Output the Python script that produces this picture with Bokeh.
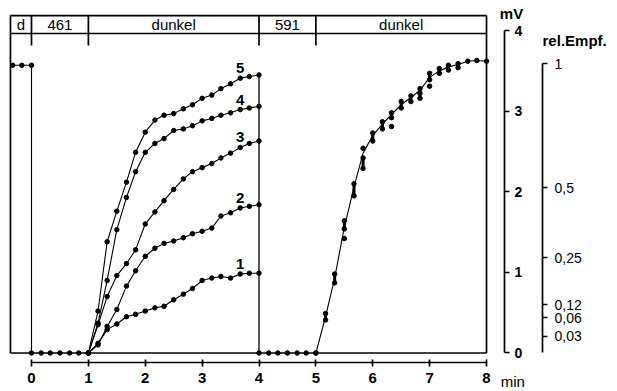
from bokeh.plotting import figure
from bokeh.models import Range1d, LinearAxis, FixedTicker
from bokeh.core.properties import value
from bokeh.embed import file_html
from bokeh.resources import INLINE

# ---------------- data (time in min, response in mV) ----------------
t_pre = [-0.33, -0.17, 0.0]
v_pre = [3.57, 3.57, 3.57]

t_base1 = [0.0, 0.17, 0.33, 0.5, 0.67, 0.83, 1.0]
v_base1 = [0, 0, 0, 0, 0, 0, 0]

t_curve = [1.0, 1.17, 1.33, 1.5, 1.67, 1.83, 2.0, 2.17, 2.33, 2.5,
           2.67, 2.83, 3.0, 3.17, 3.33, 3.5, 3.67, 3.83, 4.0]
c1 = [0, 0.12, 0.29, 0.36, 0.45, 0.48, 0.52, 0.56, 0.58, 0.66,
      0.73, 0.80, 0.90, 0.93, 0.95, 0.93, 0.98, 0.99, 0.99]
c2 = [0, 0.10, 0.33, 0.54, 0.83, 1.02, 1.20, 1.30, 1.36, 1.39,
      1.43, 1.48, 1.51, 1.55, 1.70, 1.74, 1.80, 1.82, 1.84]
c3 = [0, 0.35, 0.70, 0.96, 1.11, 1.28, 1.60, 1.75, 1.89, 2.03,
      2.16, 2.25, 2.30, 2.35, 2.42, 2.48, 2.55, 2.60, 2.63]
c4 = [0, 0.37, 0.90, 1.53, 1.93, 2.25, 2.49, 2.60, 2.66, 2.76,
      2.78, 2.82, 2.88, 2.91, 2.95, 2.98, 3.02, 3.04, 3.06]
c5 = [0, 0.52, 1.38, 1.76, 2.12, 2.49, 2.74, 2.89, 2.95, 2.97,
      3.03, 3.08, 3.16, 3.20, 3.28, 3.34, 3.41, 3.43, 3.45]
curves = [c1, c2, c3, c4, c5]
curve_names = ["1", "2", "3", "4", "5"]

t_base2 = [4.0, 4.17, 4.33, 4.5, 4.67, 4.83, 5.0]
v_base2 = [0, 0, 0, 0, 0, 0, 0]

# second exposure (591) : fitted curve and repeated measurements
t_fit = [5.0, 5.17, 5.33, 5.5, 5.67, 5.83, 6.0, 6.17, 6.33, 6.5,
         6.67, 6.83, 7.0, 7.17, 7.33, 7.5, 7.67, 7.83, 8.0]
v_fit = [0, 0.45, 0.93, 1.56, 2.06, 2.48, 2.70, 2.84, 2.96, 3.08,
         3.17, 3.26, 3.42, 3.50, 3.55, 3.58, 3.62, 3.63, 3.62]
bar_t = [5.17, 5.33, 5.5, 5.67, 5.83, 6.0, 6.17, 6.33, 6.5, 6.67,
         6.83, 7.0, 7.17, 7.33, 7.5]
bar_lo = [0.41, 0.87, 1.54, 1.95, 2.29, 2.63, 2.78, 2.92, 3.04, 3.12,
          3.22, 3.39, 3.47, 3.51, 3.54]
bar_hi = [0.49, 0.98, 1.64, 2.10, 2.42, 2.73, 2.87, 2.98, 3.12, 3.19,
          3.28, 3.47, 3.53, 3.57, 3.59]
dot_t = [5.0, 5.5, 5.83, 6.33, 6.83, 7.0, 7.67, 7.83, 8.0]
dot_v = [0.0, 1.42, 2.54, 2.81, 3.16, 3.31, 3.62, 3.63, 3.62]

# stimulus protocol header
header_edges = [-0.37, 0, 1, 4, 5, 8]
header_labels = ["d", "461", "dunkel", "591", "dunkel"]

# axes
x_ticks = [0, 1, 2, 3, 4, 5, 6, 7, 8]
mv_ticks = [0, 1, 2, 3, 4]
rel_labels = ["1", "0,5", "0,25", "0,12", "0,06", "0,03"]
rel_pos_mv = [3.59, 2.05, 1.18, 0.60, 0.44, 0.205]

# ---------------- layout constants ----------------
HT, HB, HS = 4.187, 3.964, 3.815   # header top, header bottom, separator tick end
FONT = "Liberation Sans"
INK = "black"

p = figure(width=617, height=391,
           x_range=Range1d(-0.545, 10.303), y_range=Range1d(-0.4777, 4.3735),
           x_axis_type=None, y_axis_type=None,
           toolbar_location=None, output_backend="svg",
           min_border=0, outline_line_color=None)
for g in p.grid:
    g.visible = False

left, right = header_edges[0], header_edges[-1]
# frame and header
fx0 = [left, left, left, right, left]
fy0 = [HT, HB, 0, 0, 0]
fx1 = [right, right, left, right, right]
fy1 = [HT, HB, HT, HT, 0]
for s in header_edges[1:-1]:
    fx0.append(s); fy0.append(HS); fx1.append(s); fy1.append(HT)
p.segment(fx0, fy0, fx1, fy1, line_color=INK, line_width=1.7)

mids = [(a + b) / 2 for a, b in zip(header_edges[:-1], header_edges[1:])]
p.text(mids, [(HT + HB) / 2] * len(mids), text=header_labels,
       text_align="center", text_baseline="middle",
       text_font=value(FONT), text_font_size="15px", text_color=INK)

# pre-stimulus level and drop at t=0
p.line(t_pre + [t_pre[-1]], v_pre + [0], line_color=INK, line_width=1.1)
p.scatter(t_pre, v_pre, size=4.5, color=INK)

# baseline segments
p.scatter(t_base1, v_base1, size=4.5, color=INK)
p.scatter(t_base2, v_base2, size=4.5, color=INK)

# first exposure curves
for c, name in zip(curves, curve_names):
    p.line(t_curve, c, line_color=INK, line_width=1.1)
    p.scatter(t_curve, c, size=4.5, color=INK)
p.segment([t_curve[-1]], [c5[-1]], [t_curve[-1]], [0], line_color=INK, line_width=1.3)
p.text([t_curve[16]] * 5, [c[16] for c in curves], text=curve_names,
       text_align="center", text_baseline="bottom", y_offset=-5,
       text_font=value(FONT), text_font_size="15px", text_font_style="bold",
       text_color=INK)

# second exposure
p.line(t_fit, v_fit, line_color=INK, line_width=1.1)
p.segment(bar_t, bar_lo, bar_t, bar_hi, line_color=INK, line_width=3)
p.scatter(bar_t + bar_t, bar_lo + bar_hi, size=4.5, color=INK)
p.scatter(dot_t, dot_v, size=4.5, color=INK)

# time axis
xax = LinearAxis(fixed_location=-0.124, bounds=(0, 8),
                 ticker=FixedTicker(ticks=x_ticks, minor_ticks=[]),
                 major_tick_in=3, major_tick_out=4, major_label_standoff=6,
                 axis_line_width=1.7, major_tick_line_width=1.7,
                 major_label_text_font=FONT, major_label_text_font_size="15px",
                 major_label_text_font_style="bold", major_label_text_color=INK)
p.add_layout(xax, "below")

# mV axis
mvax = LinearAxis(fixed_location=8.316, bounds=(0, 4),
                  ticker=FixedTicker(ticks=mv_ticks, minor_ticks=[]),
                  major_tick_in=0, major_tick_out=5, major_label_standoff=5,
                  axis_line_width=1.7, major_tick_line_width=1.7,
                  major_label_text_font=FONT, major_label_text_font_size="14px",
                  major_label_text_font_style="bold", major_label_text_color=INK)
p.add_layout(mvax, "right")

# relative sensitivity axis
relax = LinearAxis(fixed_location=8.985, bounds=(0, rel_pos_mv[0]),
                   ticker=FixedTicker(ticks=rel_pos_mv, minor_ticks=[]),
                   major_label_overrides={k: v for k, v in zip(rel_pos_mv, rel_labels)},
                   major_tick_in=0, major_tick_out=5, major_label_standoff=7,
                   axis_line_width=1.7, major_tick_line_width=1.7,
                   major_label_text_font=FONT, major_label_text_font_size="14px",
                   major_label_text_color=INK)
p.add_layout(relax, "right")

# axis titles
p.text([8.44], [4.21], text=["mV"], text_align="center", text_baseline="middle",
       text_font=value(FONT), text_font_size="15px", text_font_style="bold", text_color=INK)
p.text([8.985], [3.877], text=["rel.Empf."], text_align="left", text_baseline="middle",
       text_font=value(FONT), text_font_size="15px", text_font_style="bold", text_color=INK)
p.text([8.25], [-0.354], text=["min"], text_align="left", text_baseline="middle",
       text_font=value(FONT), text_font_size="15px", text_color=INK)

open("out.html", "w").write(file_html(p, INLINE))
